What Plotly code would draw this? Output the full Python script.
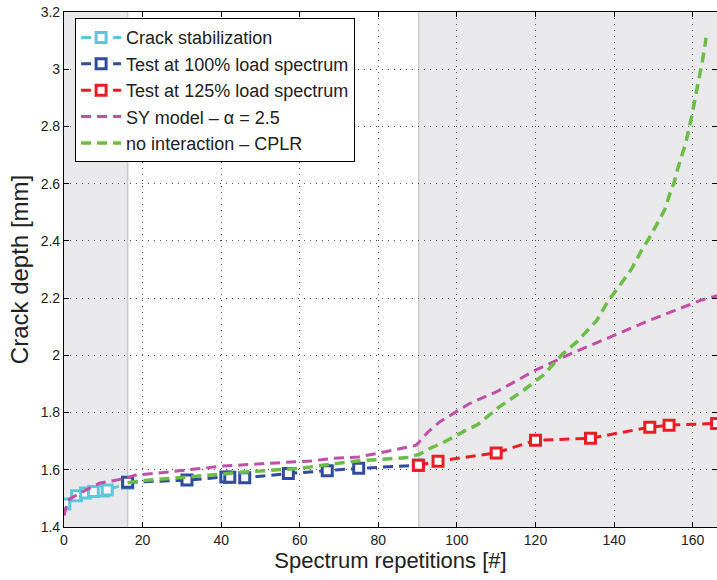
import plotly.graph_objects as go

# ---- data ----
stab_x = [0.2, 3.2, 5.5, 7.5, 10.0, 11.0, 16.2]
stab_y = [1.480, 1.509, 1.519, 1.524, 1.526, 1.529, 1.553]

t100_x = [16.2, 31.3, 41.2, 42.2, 46.0, 57.1, 67.0, 75.0, 90.2]
t100_y = [1.556, 1.564, 1.575, 1.574, 1.572, 1.587, 1.597, 1.605, 1.616]

t125_x = [90.2, 95.2, 110.0, 120.0, 134.0, 149.1, 154.0, 166.1]
t125_y = [1.616, 1.630, 1.659, 1.703, 1.710, 1.749, 1.756, 1.762]

sy_x = [0.0, 1.0, 4.0, 9.0, 16.0, 18.0, 27.0, 40.5, 54.0, 63.0, 68.5, 75.0,
        80.4, 85.0, 89.5, 90.2, 92.7, 95.7, 99.0, 103.0, 110.0, 120.0, 129.0,
        138.0, 149.0, 162.0, 166.2]
sy_y = [1.440, 1.494, 1.518, 1.553, 1.571, 1.581, 1.593, 1.613, 1.624, 1.631,
        1.640, 1.645, 1.659, 1.671, 1.685, 1.694, 1.733, 1.768, 1.797, 1.830,
        1.872, 1.948, 2.006, 2.059, 2.122, 2.192, 2.208]

ni_x = [16.2, 20.0, 30.0, 45.0, 60.0, 74.5, 88.0, 90.5, 93.5, 96.5, 99.5,
        102.5, 105.2, 108.0, 110.8, 117.0, 122.0, 127.0, 130.5, 135.6, 138.5,
        141.5, 144.5, 147.0, 149.0, 151.7, 153.0, 154.2, 155.2, 156.2, 157.2,
        158.3, 159.8, 160.6, 161.9, 162.5, 163.2, 163.4]
ni_y = [1.555, 1.562, 1.573, 1.591, 1.605, 1.631, 1.643, 1.655, 1.677, 1.695,
        1.717, 1.740, 1.757, 1.790, 1.820, 1.878, 1.931, 2.006, 2.047, 2.122,
        2.190, 2.245, 2.303, 2.367, 2.411, 2.478, 2.512, 2.565, 2.600, 2.652,
        2.700, 2.745, 2.838, 2.893, 2.978, 3.030, 3.088, 3.110]

x_ticks = [0, 20, 40, 60, 80, 100, 120, 140, 160]
y_ticks = [1.4, 1.6, 1.8, 2.0, 2.2, 2.4, 2.6, 2.8, 3.0, 3.2]
y_tick_text = ["1.4", "1.6", "1.8", "2", "2.2", "2.4", "2.6", "2.8", "3", "3.2"]

shade_left = (0.0, 16.2)
shade_right = (90.5, 170.0)

# ---- styles ----
C_CYAN = "#5cc6da"
C_BLUE = "#2f4c9e"
C_RED = "#ec1c24"
C_MAG = "#c04fa6"
C_GREEN = "#6cbd45"
DASH = "10px,6px"
FONT = "Liberation Sans, Arial, Helvetica, sans-serif"

fig = go.Figure()

def marker_trace(x, y, color, name):
    return go.Scatter(
        x=x, y=y, name=name, mode="lines+markers",
        line=dict(color=color, width=3, dash=DASH),
        marker=dict(symbol="square", size=10, color="white",
                    line=dict(color=color, width=3)),
    )

fig.add_trace(marker_trace(stab_x, stab_y, C_CYAN, "Crack stabilization"))
fig.add_trace(marker_trace(t100_x, t100_y, C_BLUE, "Test at 100% load spectrum"))
fig.add_trace(marker_trace(t125_x, t125_y, C_RED, "Test at 125% load spectrum"))
fig.add_trace(go.Scatter(x=sy_x, y=sy_y, name="SY model \u2013 \u03b1 = 2.5", mode="lines",
                         line=dict(color=C_MAG, width=3, dash=DASH)))
fig.add_trace(go.Scatter(x=ni_x, y=ni_y, name="no interaction \u2013 CPLR", mode="lines",
                         line=dict(color=C_GREEN, width=3.5, dash=DASH)))

# shaded regions
for (a, b) in (shade_left, shade_right):
    fig.add_shape(type="rect", xref="x", yref="paper", x0=a, x1=b, y0=0, y1=1,
                  fillcolor="#e9e9ec", line=dict(width=0), layer="below")
for xv in (shade_left[1], shade_right[0] - 0.2):
    fig.add_shape(type="line", xref="x", yref="paper", x0=xv, x1=xv, y0=0, y1=1,
                  line=dict(color="#c9c9c9", width=1.5), layer="below")

axis_common = dict(
    showline=True, linecolor="black", linewidth=1.2, mirror="ticks",
    ticks="inside", ticklen=5, tickcolor="black",
    showgrid=True, gridcolor="#555555", gridwidth=1, griddash="1px,5px",
    zeroline=False, tickfont=dict(family=FONT, size=14, color="#222"),
)

fig.update_xaxes(range=[0, 166.2], tickvals=x_ticks,
                 title=dict(text="Spectrum repetitions [#]",
                            font=dict(family=FONT, size=22, color="#222"), standoff=4),
                 **axis_common)
fig.update_yaxes(range=[1.4, 3.2], tickvals=y_ticks, ticktext=y_tick_text,
                 title=dict(text="Crack depth [mm]",
                            font=dict(family=FONT, size=24, color="#222"), standoff=5),
                 **axis_common)

fig.update_layout(
    width=717, height=580,
    margin=dict(l=64, r=0, t=12, b=53, autoexpand=False),
    paper_bgcolor="white", plot_bgcolor="white",
    font=dict(family=FONT, color="#222"),
    legend=dict(x=0.017, y=0.988, xanchor="left", yanchor="top",
                bgcolor="white", bordercolor="black", borderwidth=1,
                font=dict(family=FONT, size=18, color="#222"),
                tracegroupgap=0, itemwidth=40),
    showlegend=True,
)

fig.write_html("out.html")
